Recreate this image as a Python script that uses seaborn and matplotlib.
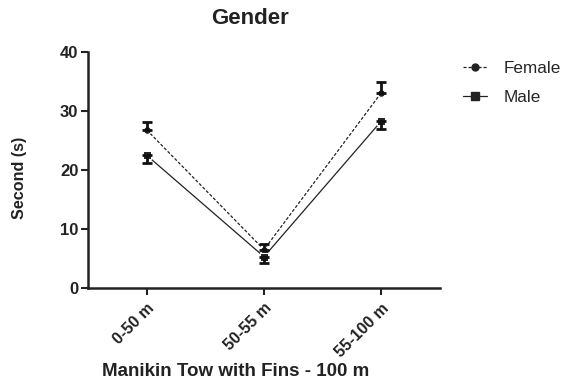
import matplotlib
matplotlib.use("Agg")
import matplotlib.pyplot as plt
import seaborn as sns
import pandas as pd
import numpy as np
from matplotlib.lines import Line2D

categories = ["0-50 m", "50-55 m", "55-100 m"]
female = [26.8, 6.5, 33.1]
female_err = [1.4, 1.0, 1.8]
male = [22.5, 5.3, 28.3]
male_err = [1.3, 1.0, 1.4]

sns.set_style("ticks")
plt.rcParams['font.family'] = ['Liberation Sans', 'DejaVu Sans']

df = pd.DataFrame({
    "Segment": categories * 2,
    "x": list(range(len(categories))) * 2,
    "Time": female + male,
    "Gender": ["Female"] * 3 + ["Male"] * 3,
})

fig = plt.figure(figsize=(5.74, 3.9), dpi=100)
ax = fig.add_axes([88/574, 102/390, 352/574, 236/390])

sns.lineplot(data=df, x="x", y="Time", hue="Gender", style="Gender",
             palette={"Female": "#222222", "Male": "#222222"},
             dashes={"Female": (2.5, 1.5), "Male": ""},
             markers={"Female": "o", "Male": "s"},
             markersize=5.5, linewidth=0.9, ax=ax, legend=False)

xs = np.arange(len(categories))
ax.errorbar(xs, female, yerr=[np.zeros(3), female_err], fmt="none",
            ecolor="#111111", elinewidth=2, capsize=3.5, capthick=2)
ax.errorbar(xs, male, yerr=[male_err, np.zeros(3)], fmt="none",
            ecolor="#111111", elinewidth=2, capsize=3.5, capthick=2)

ax.set_xlim(-0.5, 2.5)
ax.set_ylim(0, 40)
ax.set_yticks([0, 10, 20, 30, 40])
ax.set_xticks(xs)
ax.set_xticklabels(categories, rotation=45, ha="right", rotation_mode="anchor",
                   fontsize=11.5, fontweight="bold")
for t in ax.get_yticklabels():
    t.set_fontsize(12)
    t.set_fontweight("bold")
ax.tick_params(axis="both", length=5, width=1.5, color="#222222", labelcolor="#222222")
ax.tick_params(axis="x", pad=4)
ax.tick_params(axis="y", pad=2)
for s in ["left", "bottom"]:
    ax.spines[s].set_linewidth(1.8)
    ax.spines[s].set_color("#222222")
sns.despine(ax=ax)

ax.set_ylabel("")
ax.set_xlabel("")
fig.text(20/574, 1 - 178/390, "Second (s)", rotation=90, ha="center", va="center",
         fontsize=11.6, fontweight="bold", color="#222222")
fig.text(236/574, 1 - 372/390, "Manikin Tow with Fins - 100 m", ha="center", va="center",
         fontsize=13.5, fontweight="bold", color="#222222")
fig.text(250/574, 1 - 18/390, "Gender", ha="center", va="center",
         fontsize=16, fontweight="bold", color="#222222")

handles = [
    Line2D([], [], color="#222222", linestyle=(0, (2.5, 1.5)), linewidth=0.9, marker="o", markersize=5),
    Line2D([], [], color="#222222", linestyle="-", linewidth=0.9, marker="s", markersize=5.5),
]
fig.legend(handles, ["Female", "Male"], loc="upper left", bbox_to_anchor=(448/574, 1 - 46/390),
           frameon=False, fontsize=12.3, handlelength=1.4, handletextpad=0.95,
           labelspacing=0.8)

fig.savefig("out.png", dpi=100)
